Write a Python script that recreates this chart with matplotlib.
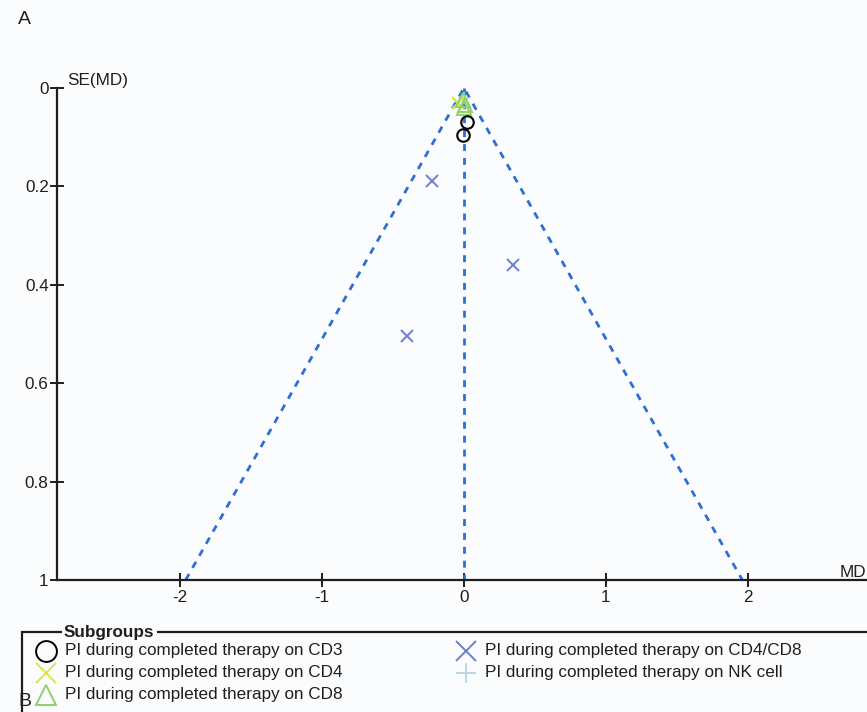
import matplotlib.pyplot as plt
from matplotlib.patches import Rectangle
from matplotlib.lines import Line2D

plt.rcParams['font.family'] = ['Liberation Sans', 'DejaVu Sans']

# study points, MD vs SE(MD)
cd3_md = [0.02, -0.005]
cd3_se = [0.069, 0.096]
cd4_md = [-0.04]
cd4_se = [0.03]
cd8_md = [-0.01, 0.01, 0.0]
cd8_se = [0.025, 0.035, 0.04]
cd48_md = [-0.225, 0.345, -0.40]
cd48_se = [0.189, 0.36, 0.504]
nk_md = [0.0]
nk_se = [0.02]

pooled = 0.0
z = 1.96

labels = ["PI during completed therapy on CD3",
          "PI during completed therapy on CD4",
          "PI during completed therapy on CD8",
          "PI during completed therapy on CD4/CD8",
          "PI during completed therapy on NK cell"]

c_cd3 = 'black'
c_cd4 = '#d6e64a'
c_cd8 = '#8fd06c'
c_cd48 = '#6b80d2'
c_nk = '#bcd6e6'
c_line = '#2e6fd2'
c_txt = '#1e1e1e'
bg = '#fbfcfe'
fs = 12.3

fig = plt.figure(figsize=(8.67, 7.12), dpi=100, facecolor=bg)
ax = fig.add_axes([57 / 867, 132 / 712, 810 / 867, 492 / 712])
ax.set_facecolor(bg)

# funnel
ax.plot([pooled - z, pooled, pooled + z], [1, 0, 1], ls=(0, (2.5, 2.5)), color=c_line, lw=2)
ax.plot([pooled, pooled], [0, 1], ls=(0, (2.5, 2.5)), color=c_line, lw=2)

ms = 9
ax.plot(cd48_md, cd48_se, 'x', color=c_cd48, ms=ms, mew=1.4, ls='none')
ax.plot(nk_md, nk_se, '+', color=c_nk, ms=ms, mew=1.2, ls='none')
ax.plot(cd4_md, cd4_se, 'x', color=c_cd4, ms=ms, mew=1.6, ls='none')
ax.plot(cd8_md, cd8_se, '^', color=c_cd8, ms=ms + 1, mfc='none', mew=1.4, ls='none')
ax.plot(cd3_md, cd3_se, 'o', color=c_cd3, ms=ms, mfc='none', mew=1.5, ls='none')

ax.set_xlim(-2.866, 2.838)
ax.set_ylim(1, 0)
ax.set_xticks([-2, -1, 0, 1, 2])
ax.set_xticklabels(['-2', '-1', '0', '1', '2'])
ax.set_yticks([0, 0.2, 0.4, 0.6, 0.8, 1])
ax.set_yticklabels(['0', '0.2', '0.4', '0.6', '0.8', '1'])
for s in ['top', 'right']:
    ax.spines[s].set_visible(False)
for s in ['left', 'bottom']:
    ax.spines[s].set_linewidth(1.6)
    ax.spines[s].set_color(c_txt)
ax.tick_params(direction='inout', length=10, width=1.4, labelsize=fs, colors=c_txt, pad=1)
ax.tick_params(axis='x', pad=2)

ax.text(0.012, 1.0, 'SE(MD)', transform=ax.transAxes, fontsize=fs, va='bottom', ha='left', color=c_txt)
ax.text(0.999, 0.0, 'MD', transform=ax.transAxes, fontsize=fs, va='bottom', ha='right', color=c_txt)

# panel letters
fig.text(18 / 867, 1 - 20 / 712, 'A', fontsize=14, va='center', ha='left', color=c_txt)
fig.text(18 / 867, 1 - 702 / 712, 'B', fontsize=14, va='center', ha='left', color=c_txt)

# legend box
box = Rectangle((22 / 867, -0.05), 1.0, (712 - 632) / 712 + 0.05, transform=fig.transFigure,
                fill=False, ec=c_txt, lw=1.6)
fig.add_artist(box)
fig.text(64 / 867, 1 - 632 / 712, 'Subgroups', fontsize=fs, fontweight='bold', va='center', ha='left',
         color=c_txt, bbox=dict(fc=bg, ec='none', pad=1.5))

entries = [
    (46, 651, 'o', c_cd3, labels[0]),
    (46, 673, 'x', c_cd4, labels[1]),
    (46, 695, '^', c_cd8, labels[2]),
    (466, 651, 'x', c_cd48, labels[3]),
    (466, 673, '+', c_nk, labels[4]),
]
for x, y, m, c, lab in entries:
    fig.add_artist(Line2D([x / 867], [1 - y / 712], marker=m, color=c, mfc='none', ms=15,
                          mew=1.4, ls='none', transform=fig.transFigure))
    fig.text((x + 19) / 867, 1 - y / 712, lab, fontsize=fs, va='center', ha='left', color=c_txt)

fig.savefig('out.png', dpi=100, facecolor=bg)
